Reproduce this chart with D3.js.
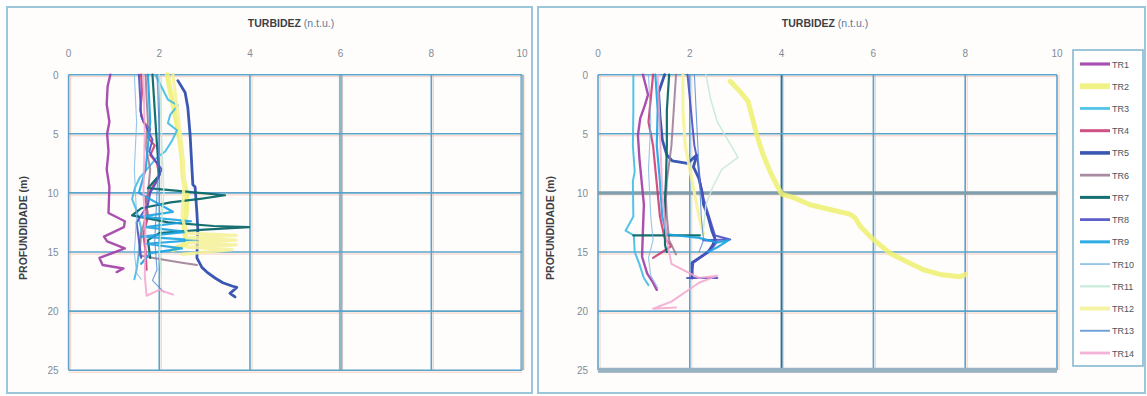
<!DOCTYPE html>
<html>
<head>
<meta charset="utf-8">
<script src="https://cdn.jsdelivr.net/npm/d3@7"></script>
<style>
  body { margin: 0; background: #ffffff; }
  text { font-family: "Liberation Sans", "DejaVu Sans", sans-serif; }
</style>
</head>
<body>
<svg id="chart" width="1147" height="396"></svg>
<script>
// Turbidity (n.t.u.) profiles versus depth (m) at stations TR1–TR14.
// Every profile is a list of [turbidity, depth] readings.

const seriesNames = ["TR1","TR2","TR3","TR4","TR5","TR6","TR7","TR8","TR9","TR10","TR11","TR12","TR13","TR14"];
const turbidityTicks = [0, 2, 4, 6, 8, 10];
const depthTicks = [0, 5, 10, 15, 20, 25];

// ---- first survey (left panel) ----
const leftTR1 = [[0.92,0],[0.86,1],[0.84,2.5],[0.9,4],[0.85,5],[0.88,6.5],[0.84,8],[0.9,9.5],[0.88,11.7],[1.24,12.4],[1.22,12.9],[0.78,13.7],[0.85,14.1],[1.24,14.7],[0.68,15.5],[0.75,16.1],[1.21,16.4],[1.06,16.7]];
const leftTR2 = [[2.18,0],[2.22,1],[2.3,2.5],[2.38,4],[2.45,5.5],[2.5,7],[2.53,8.8],[2.6,10],[2.6,11.5],[2.55,13],[2.6,14.3],[2.3,14.8]];
const leftTR3 = [[1.91,0],[2.06,1.1],[2.19,2.1],[2.41,2.6],[2.24,3.4],[2.19,4.1],[2.39,4.7],[2.28,5.6],[2.13,6.5],[1.95,7.0],[1.75,7.9],[1.57,8.7],[1.46,9.6],[1.4,10.5],[1.5,11.5],[1.6,13],[1.55,15],[1.5,16.5],[1.45,17.3]];
const leftTR4 = [[1.6,0],[1.62,1.5],[1.58,3],[1.65,4],[1.8,4.6],[1.75,5.3],[1.9,6],[1.8,6.8],[1.95,7.5],[2.0,8.5],[1.85,9.5],[1.7,10.5],[1.75,12],[1.65,13.5],[1.7,15],[1.72,16.5]];
const leftTR5 = [[2.41,0.5],[2.57,1.5],[2.63,2.8],[2.68,5.1],[2.72,7.9],[2.74,9.3],[2.79,9.5],[2.83,11.7],[2.85,13.1],[2.83,15.5],[2.94,16.3],[3.05,16.7],[3.23,17.2],[3.4,17.6],[3.62,17.9],[3.71,18.0],[3.56,18.5],[3.67,18.8]];
const leftTR6 = [[1.7,0],[1.72,2],[1.75,4],[1.7,6],[1.8,8],[1.75,10],[1.7,12],[1.6,13.5],[1.56,15.3],[2.0,15.6],[2.5,15.9],[2.83,16.1]];
const leftTR7 = [[1.85,0],[1.9,3],[1.95,6],[2.0,8.5],[1.75,9.6],[2.6,9.9],[3.45,10.2],[2.9,10.5],[2.25,10.8],[1.6,11.3],[1.4,11.9],[2.2,12.5],[3.2,12.8],[3.98,12.9],[3.0,13.1],[2.0,13.4],[1.75,14],[1.8,15.5]];
const leftTR8 = [[1.55,0],[1.58,2],[1.6,3.5],[1.72,4.5],[1.85,5.5],[1.78,6.5],[1.9,7.2],[2.05,8],[1.95,9],[1.8,10],[1.75,11],[1.5,12.5],[1.55,14],[1.6,15.5]];
const leftTR9 = [[1.75,0],[1.8,4],[1.7,8],[1.55,10],[2.3,11.6],[1.6,12.0],[2.7,12.4],[1.7,12.9],[2.6,13.3],[1.6,13.7],[2.8,14.0],[1.7,14.3],[2.5,14.7],[1.8,15.1],[1.6,16]];
const leftTR10 = [[1.45,0],[1.5,4],[1.45,8],[1.5,12],[1.45,15],[1.5,16.8],[1.6,17.3]];
const leftTR11 = [[2.0,0],[2.05,5],[2.1,10],[2.0,15],[2.05,17]];
const leftTR12 = [[2.3,0],[2.4,3],[2.5,6],[2.55,9],[2.5,12],[2.6,13.4],[3.7,13.6],[2.6,13.8],[3.7,14.0],[2.6,14.2],[3.7,14.4],[2.6,14.6],[3.6,14.8],[2.5,15.2]];
const leftTR13 = [[1.95,0],[2.0,5],[1.95,10],[1.9,14],[1.95,16.5],[1.85,17.4],[2.1,18.4]];
const leftTR14 = [[1.65,0],[1.68,5],[1.65,10],[1.7,14],[1.68,17],[1.72,18.7],[2.0,18.2],[2.3,18.6]];

// ---- second survey (right panel) ----
const rightTR1 = [[0.98,0],[1.09,1.7],[1.02,2.6],[0.92,3.7],[0.87,5.1],[0.9,7],[0.95,9],[1.0,11],[0.98,13],[0.96,15.4],[1.07,16.8],[1.2,17.6],[1.28,18.2]];
const rightTR2 = [[2.88,0.56],[3.09,1.4],[3.27,2.25],[3.38,3.9],[3.46,5.1],[3.6,6.8],[3.75,8.2],[3.89,9.3],[4.0,10.1],[4.26,10.4],[4.62,11.0],[5.05,11.4],[5.49,11.8],[5.6,12.1],[5.71,12.8],[5.93,13.7],[6.14,14.4],[6.36,15.1],[6.72,15.8],[7.09,16.5],[7.45,16.9],[7.89,17.1],[8.0,16.9]];
const rightTR3 = [[0.77,0],[0.77,3],[0.76,6],[0.8,8.2],[0.76,9],[0.77,12],[0.6,13.2],[0.78,13.6],[0.8,15],[0.9,16],[1.0,17.2],[1.1,17.8]];
const rightTR4 = [[1.2,0],[1.15,2],[1.1,4],[1.2,6],[1.25,8],[1.3,10],[1.35,12],[1.45,13.8],[1.6,14.5],[1.4,15],[1.2,15.5]];
const rightTR5 = [[1.45,0],[1.32,1.5],[1.35,3.5],[1.4,5.5],[1.5,6.8],[1.62,7.3],[1.95,7.5],[2.15,6.8],[2.08,7.8],[2.2,8.8],[2.27,10],[2.3,11],[2.4,12],[2.48,13.2],[2.55,13.9],[2.5,14.4],[2.4,15],[2.05,15.9],[2.05,17.2]];
const rightTR6 = [[1.7,0],[1.65,3],[1.6,6],[1.5,9],[1.48,10.5],[1.5,12],[1.55,14],[1.7,15.2]];
const rightTR7 = [[1.55,0],[1.5,3],[1.5,6],[1.48,9],[1.46,10.5],[1.46,12],[1.46,13.6],[0.77,13.6],[2.22,13.6],[1.46,13.6],[1.46,14.4],[1.5,15]];
const rightTR8 = [[1.95,0],[2.0,2],[2.05,4],[2.1,6],[2.18,7.5],[2.22,9],[2.3,10.5],[2.42,12],[2.55,13.6],[2.88,13.95],[2.29,14.0],[2.6,14.1],[2.5,14.6],[2.3,15.3],[2.08,15.9],[2.05,16.6],[2.05,17.2],[1.94,17.2],[2.6,17.2]];
const rightTR9 = [[1.25,0],[1.3,3],[1.28,6],[1.35,9],[1.4,12],[1.5,13.5],[2.2,13.8],[2.6,14.2],[2.85,14.0],[2.6,14.6],[2.4,15.0]];
const rightTR10 = [[1.1,0],[1.15,4],[1.1,8],[1.15,12],[1.2,14],[1.1,15.5],[1.15,17],[1.3,18]];
const rightTR11 = [[2.35,0],[2.45,2],[2.6,4],[2.9,6],[3.05,7],[2.7,8],[2.5,9.5],[2.35,11],[2.3,13]];
const rightTR12 = [[1.85,0],[1.85,3],[1.9,6],[2.0,8],[2.1,10],[2.2,12],[2.3,13.5]];
const rightTR13 = [[2.1,0],[2.15,4],[2.2,8],[2.25,12],[2.3,14],[2.2,15]];
const rightTR14 = [[1.3,0],[1.35,5],[1.4,10],[1.5,14],[1.6,16],[2.2,17.2],[2.6,17.0],[2.2,17.6],[1.6,19.2],[1.2,19.8],[1.7,19.7]];

const leftSeries  = [leftTR1, leftTR2, leftTR3, leftTR4, leftTR5, leftTR6, leftTR7, leftTR8, leftTR9, leftTR10, leftTR11, leftTR12, leftTR13, leftTR14];
const rightSeries = [rightTR1, rightTR2, rightTR3, rightTR4, rightTR5, rightTR6, rightTR7, rightTR8, rightTR9, rightTR10, rightTR11, rightTR12, rightTR13, rightTR14];

// line styles for each station, in legend order
const seriesStyle = [
  { color: "#a03ca6", width: 2.4, opacity: 0.9 },
  { color: "#eef070", width: 5.0, opacity: 0.85 },
  { color: "#40bde4", width: 2.0, opacity: 0.9 },
  { color: "#c8326e", width: 2.2, opacity: 0.85 },
  { color: "#2f4fae", width: 2.8, opacity: 0.95 },
  { color: "#9a7890", width: 2.0, opacity: 0.85 },
  { color: "#0a6868", width: 2.2, opacity: 0.95 },
  { color: "#4d4fc4", width: 2.0, opacity: 0.9 },
  { color: "#1aa3e2", width: 2.2, opacity: 0.9 },
  { color: "#7ab8e2", width: 1.1, opacity: 0.8 },
  { color: "#c4ead6", width: 1.5, opacity: 0.9 },
  { color: "#f5f29c", width: 3.2, opacity: 0.9 },
  { color: "#4a86d0", width: 1.1, opacity: 0.8 },
  { color: "#f2a6cf", width: 2.0, opacity: 0.85 }
];

const svg = d3.select("#chart");

const panels = [
  {
    frame: [7, 7, 525, 386],
    xRange: [68.6, 522], yRange: [74.7, 370.2],
    titleX: 291, yTitleX: 27,
    series: leftSeries,
    strongX: [6, 10], strongY: [], heavyBottom: false
  },
  {
    frame: [538, 7, 607, 386],
    xRange: [598, 1057], yRange: [74.7, 370.2],
    titleX: 825, yTitleX: 554,
    series: rightSeries,
    strongX: [4], strongY: [10], heavyBottom: true
  }
];

panels.forEach(p => {
  const g = svg.append("g");
  const x = d3.scaleLinear().domain([0, 10]).range(p.xRange);
  const y = d3.scaleLinear().domain([0, 25]).range(p.yRange);

  // chart frame
  g.append("rect")
    .attr("x", p.frame[0]).attr("y", p.frame[1])
    .attr("width", p.frame[2]).attr("height", p.frame[3])
    .attr("fill", "#fffdfc").attr("stroke", "#9cc7da").attr("stroke-width", 2);

  // faint warm halo next to each grid line
  turbidityTicks.forEach(t => {
    g.append("line").attr("x1", x(t) + 2).attr("x2", x(t) + 2)
      .attr("y1", y(0)).attr("y2", y(25))
      .attr("stroke", "#f6cdbf").attr("stroke-width", 1);
  });
  depthTicks.forEach(t => {
    g.append("line").attr("x1", x(0)).attr("x2", x(10))
      .attr("y1", y(t) + 2).attr("y2", y(t) + 2)
      .attr("stroke", "#f6cdbf").attr("stroke-width", 1);
  });

  // grid
  turbidityTicks.forEach(t => {
    const strong = p.strongX.includes(t);
    g.append("line").attr("x1", x(t)).attr("x2", x(t))
      .attr("y1", y(0)).attr("y2", y(25))
      .attr("stroke", strong ? (t === 4 ? "#2c6f90" : "#8fb5c8") : "#5aa4cc")
      .attr("stroke-width", strong ? (t === 4 ? 2 : 3.5) : 1.6);
  });
  depthTicks.forEach(t => {
    const strong = p.strongY.includes(t);
    const bottom = p.heavyBottom && t === 25;
    g.append("line").attr("x1", x(0)).attr("x2", x(10))
      .attr("y1", y(t)).attr("y2", y(t))
      .attr("stroke", bottom ? "#97b3c2" : (strong ? "#7f9fae" : "#5aa4cc"))
      .attr("stroke-width", bottom ? 5 : (strong ? 3.5 : 1.6));
  });

  // tick labels
  g.selectAll(".xt").data(turbidityTicks).join("text")
    .attr("x", d => x(d)).attr("y", 57)
    .attr("text-anchor", "middle").attr("font-size", 10).attr("fill", "#7d8c98")
    .text(d => d);
  g.selectAll(".yt").data(depthTicks).join("text")
    .attr("x", x(0) - 10).attr("y", d => y(d) + 4)
    .attr("text-anchor", "end").attr("font-size", 10).attr("fill", "#7d8c98")
    .text(d => d);

  // axis titles
  const title = g.append("text").attr("x", p.titleX).attr("y", 27)
    .attr("text-anchor", "middle").attr("font-size", 10.5);
  title.append("tspan").attr("font-weight", "bold").attr("fill", "#3a3f44").text("TURBIDEZ ");
  title.append("tspan").attr("fill", "#5a7a96").text("(n.t.u.)");

  g.append("text")
    .attr("transform", `translate(${p.yTitleX},228) rotate(-90)`)
    .attr("text-anchor", "middle").attr("font-size", 10.5)
    .attr("font-weight", "bold").attr("fill", "#3a3f44")
    .text("PROFUNDIDADE (m)");

  // profiles
  const line = d3.line().x(d => x(d[0])).y(d => y(d[1]));
  p.series.forEach((s, i) => {
    const st = seriesStyle[i];
    g.append("path").datum(s)
      .attr("d", line)
      .attr("fill", "none")
      .attr("stroke", st.color)
      .attr("stroke-width", st.width)
      .attr("stroke-opacity", st.opacity)
      .attr("stroke-linejoin", "round")
      .attr("stroke-linecap", "round");
  });
});

// legend
const legend = svg.append("g");
legend.append("rect")
  .attr("x", 1073).attr("y", 50).attr("width", 70).attr("height", 316)
  .attr("fill", "#ffffff").attr("stroke", "#7fb2cc").attr("stroke-width", 1.5);
const ly = d3.scalePoint().domain(seriesNames).range([64, 353]);
seriesNames.forEach((name, i) => {
  const st = seriesStyle[i];
  legend.append("line")
    .attr("x1", 1080).attr("x2", 1110)
    .attr("y1", ly(name)).attr("y2", ly(name))
    .attr("stroke", st.color).attr("stroke-width", Math.max(st.width + 0.8, 1.4))
    .attr("stroke-opacity", st.opacity);
  legend.append("text")
    .attr("x", 1112).attr("y", ly(name) + 3.5)
    .attr("font-size", 9).attr("fill", "#4a5560")
    .text(name);
});
</script>
</body>
</html>
